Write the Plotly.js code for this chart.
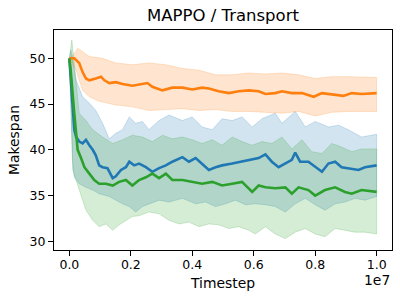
<!DOCTYPE html>
<html>
<head>
<meta charset="utf-8">
<script src="https://cdn.plot.ly/plotly-3.0.1.min.js"></script>
<style>html,body{margin:0;padding:0;background:#fff;}#chart{width:400px;height:300px;}</style>
</head>
<body>
<div id="chart"></div>
<script>
// Timesteps are given in millions of steps (converted to steps when drawn)
const chartTitle = "MAPPO / Transport";
const xLabel = "Timestep";
const yLabel = "Makespan";
const xTickVals = [0, 2e6, 4e6, 6e6, 8e6, 1e7];
const xTickText = ["0.0", "0.2", "0.4", "0.6", "0.8", "1.0"];
const yTickVals = [30, 35, 40, 45, 50];
const xOffsetText = "1e7";

// Series 1 (blue)
const blueMeanX = [0,0.05,0.11,0.16,0.22,0.32,0.43,0.54,0.65,0.76,0.86,0.97,1.08,1.24,1.41,1.51,1.68,1.84,1.95,2.11,2.27,2.49,2.70,2.92,3.14,3.35,3.68,3.89,4.11,4.32,4.54,4.76,4.97,5.30,5.62,5.95,6.16,6.38,6.59,6.81,7.03,7.24,7.35,7.51,7.78,8.00,8.22,8.43,8.65,8.86,9.08,9.41,9.62,10.0];
const blueMeanY = [50,47.6,44.0,42.2,41.4,40.9,40.7,41.1,40.5,40.0,39.4,38.3,38.1,38.0,36.9,37.1,37.8,38.1,38.7,38.3,38.5,38.1,37.6,38.0,38.3,38.7,39.2,38.7,39.1,38.5,37.8,38.1,38.3,38.5,38.7,38.9,39.1,39.5,38.7,38.1,38.5,38.9,39.7,38.7,38.7,38.1,37.6,38.5,38.7,38.1,38.0,37.8,38.1,38.3];
const blueUpperX = [0,0.05,0.22,0.43,0.65,0.86,1.08,1.30,1.51,1.73,1.95,2.16,2.38,2.59,2.92,3.24,3.68,4.00,4.32,4.65,4.97,5.30,5.62,5.95,6.27,6.70,6.92,7.35,7.68,8.00,8.43,8.76,9.08,9.51,10.0];
const blueUpperY = [50,50.9,47.6,45.8,45.1,44.3,42.9,41.2,41.8,42.2,43.6,42.9,43.1,42.2,43.2,43.8,43.2,43.6,42.5,42.2,43.4,43.2,43.6,42.5,43.4,44.0,42.9,44.2,42.5,43.1,42.5,42.7,42.2,41.4,41.7];
const blueLowerX = [0,0.11,0.16,0.32,0.54,0.76,0.97,1.30,1.51,1.73,1.95,2.16,2.38,2.59,2.92,3.24,3.68,4.11,4.43,4.76,5.08,5.41,5.73,6.05,6.38,6.70,7.03,7.35,7.68,8.00,8.32,8.65,8.97,9.30,9.62,10.0];
const blueLowerY = [50,38.5,37.0,36.3,35.9,35.6,35.2,34.9,34.5,34.1,33.8,33.2,33.8,34.1,34.5,34.3,34.7,34.1,34.3,33.8,34.1,34.5,34.0,34.1,34.0,33.8,33.2,34.1,34.7,34.0,33.4,34.1,34.3,34.7,34.5,34.9];

// Series 2 (orange)
const orangeMeanX = [0,0.16,0.32,0.43,0.54,0.65,0.86,1.03,1.14,1.30,1.51,1.73,2.05,2.27,2.54,2.70,3.03,3.35,3.68,4.00,4.32,4.54,4.86,5.19,5.51,5.84,6.16,6.38,6.70,6.92,7.24,7.57,7.95,8.22,8.54,8.92,9.19,9.51,10.0];
const orangeMeanY = [50,50,49.5,48.5,47.8,47.6,47.8,48.0,47.6,47.3,47.4,47.2,47.0,47.1,47.3,46.9,46.5,46.8,46.8,46.6,46.8,46.7,46.4,46.2,46.4,46.5,46.4,46.1,46.2,46.4,46.2,46.2,45.8,46.2,46.1,45.9,46.2,46.1,46.2];
const orangeUpperX = [0,0.16,0.27,0.43,0.65,1.08,1.51,2.05,2.59,3.14,3.68,4.22,4.76,5.30,5.84,6.38,6.92,7.46,8.00,8.54,9.08,10.0];
const orangeUpperY = [50,50.5,51.1,50.7,50.2,50.0,49.5,49.3,49.5,49.3,48.9,48.7,48.2,48.2,48.4,48.3,48.4,48.2,47.8,48.0,48.0,47.9];
const orangeLowerX = [0,0.22,0.43,0.65,0.97,1.51,2.05,2.59,3.14,3.68,4.22,4.76,5.30,5.84,6.38,6.92,7.46,8.00,8.54,9.08,10.0];
const orangeLowerY = [50,48.7,46.5,45.8,45.3,44.9,44.7,44.3,44.4,44.5,44.3,44.4,44.2,44.2,44.1,44.0,44.2,43.7,44.1,44.2,44.2];

// Series 3 (green)
const greenMeanX = [0,0.05,0.16,0.27,0.38,0.49,0.65,0.81,0.97,1.19,1.41,1.62,1.84,2.05,2.27,2.49,2.70,2.92,3.14,3.35,3.68,4.00,4.32,4.65,4.97,5.30,5.62,5.95,6.16,6.38,6.70,7.03,7.24,7.46,7.78,8.00,8.32,8.65,8.97,9.19,9.51,10.0];
const greenMeanY = [50,48.4,44.0,40.0,39.1,38.1,37.4,36.7,36.3,36.3,36.1,36.5,36.7,36.1,36.7,37.0,37.4,36.9,37.4,36.7,36.7,36.5,36.3,36.5,36.1,36.3,36.5,35.4,36.1,35.9,35.8,35.9,35.2,35.9,35.6,35.0,35.6,35.9,35.4,35.2,35.6,35.4];
const greenUpperX = [0,0.08,0.16,0.32,0.54,0.76,1.08,1.41,1.73,2.05,2.38,2.70,3.03,3.35,3.68,4.00,4.32,4.65,4.97,5.30,5.62,5.95,6.27,6.59,6.92,7.24,7.57,7.89,8.22,8.54,8.86,9.19,9.51,10.0];
const greenUpperY = [50,52.0,49.5,44.0,43.2,42.2,41.4,40.7,41.1,41.6,41.4,40.9,41.6,41.2,41.4,41.1,40.7,41.1,40.5,41.4,40.9,40.5,40.9,40.7,41.4,40.1,41.1,39.8,39.6,40.7,40.3,39.8,40.1,40.1];
const greenLowerX = [0,0.11,0.32,0.54,0.76,0.97,1.19,1.41,1.62,1.84,2.05,2.27,2.59,2.92,3.24,3.57,3.89,4.22,4.54,4.86,5.19,5.51,5.84,6.05,6.38,6.70,7.03,7.35,7.68,8.00,8.32,8.65,8.97,9.30,9.62,10.0];
const greenLowerY = [50,37.8,35.6,33.4,32.3,31.6,31.9,31.2,31.8,32.3,32.7,32.8,33.2,33.0,32.3,31.9,32.1,31.6,31.9,31.8,31.4,31.6,31.2,30.8,31.6,30.8,30.3,31.0,31.4,30.8,30.5,31.4,31.2,31.0,31.0,30.8];

const toSteps = a => a.map(v => v * 1e6);

function band(ux, uy, lx, ly, rgb) {
  return {
    x: toSteps(ux).concat(toSteps(lx).slice().reverse()),
    y: uy.concat(ly.slice().reverse()),
    type: 'scatter', mode: 'lines', fill: 'toself',
    fillcolor: 'rgba(' + rgb + ',0.2)',
    line: {color: 'rgba(' + rgb + ',0.2)', width: 1},
    hoverinfo: 'skip', showlegend: false
  };
}
function meanLine(x, y, color) {
  return {x: toSteps(x), y: y, type: 'scatter', mode: 'lines',
          line: {color: color, width: 2.6}, showlegend: false};
}

const traces = [
  band(blueUpperX, blueUpperY, blueLowerX, blueLowerY, '31,119,180'),
  band(orangeUpperX, orangeUpperY, orangeLowerX, orangeLowerY, '255,127,14'),
  band(greenUpperX, greenUpperY, greenLowerX, greenLowerY, '44,160,44'),
  meanLine(blueMeanX, blueMeanY, '#1f77b4'),
  meanLine(orangeMeanX, orangeMeanY, '#ff7f0e'),
  meanLine(greenMeanX, greenMeanY, '#2ca02c')
];

const font = 'DejaVu Sans, sans-serif';
const axisCommon = {
  showgrid: false, zeroline: false, showline: true, linecolor: '#000', linewidth: 1,
  mirror: true, ticks: 'outside', ticklen: 5, tickwidth: 1, tickcolor: '#000',
  tickfont: {family: font, size: 12.5, color: '#000'}
};

const layout = {
  width: 400, height: 300,
  margin: {l: 54, r: 8, t: 30, b: 50},
  paper_bgcolor: '#fff', plot_bgcolor: '#fff',
  showlegend: false,
  title: {text: chartTitle, x: 0.5, xref: 'paper', y: 0.95, yref: 'container', yanchor: 'middle',
          font: {family: font, size: 16.5, color: '#000'}},
  xaxis: Object.assign({}, axisCommon, {
    range: [-0.5e6, 10.5e6], tickmode: 'array', tickvals: xTickVals, ticktext: xTickText,
    ticklabelstandoff: -2,
    title: {text: xLabel, font: {family: font, size: 13.9, color: '#000'}, standoff: 7}
  }),
  yaxis: Object.assign({}, axisCommon, {
    range: [29.05, 53.1], tickmode: 'array', tickvals: yTickVals,
    ticktext: yTickVals.map(String),
    title: {text: yLabel, font: {family: font, size: 13.9, color: '#000'}, standoff: 6}
  }),
  annotations: [{
    text: xOffsetText, xref: 'paper', yref: 'paper', x: 1, y: -0.135,
    xanchor: 'right', yanchor: 'middle', showarrow: false,
    font: {family: font, size: 13.9, color: '#000'}
  }]
};

Plotly.newPlot('chart', traces, layout, {staticPlot: true, displayModeBar: false});
</script>
</body>
</html>
